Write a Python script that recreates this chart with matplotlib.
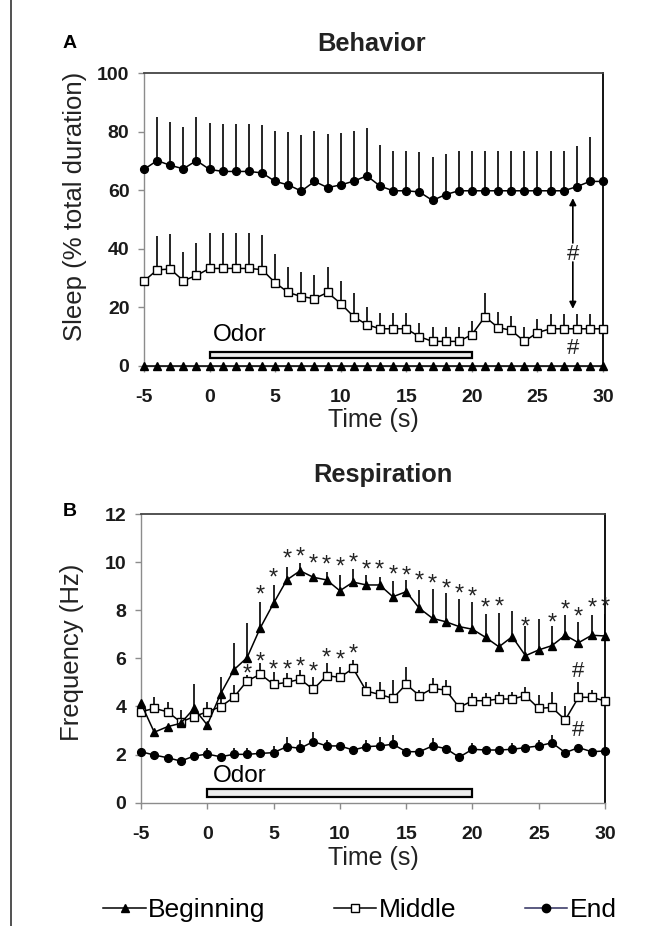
import numpy as np
import matplotlib
matplotlib.use("Agg")
import matplotlib.pyplot as plt
from matplotlib.lines import Line2D
from matplotlib.patches import Rectangle

plt.rcParams['font.family'] = ['Liberation Sans', 'DejaVu Sans']
plt.rcParams['axes.unicode_minus'] = False

# --- data ---
time_s = np.arange(-5, 31)

# A: behaviour (sleep %)
beh_begin = [0, 0, 0, 0, 0, 0, 0, 0, 0, 0, 0, 0, 0, 0, 0, 0, 0, 0,
             0, 0, 0, 0, 0, 0, 0, 0, 0, 0, 0, 0, 0, 0, 0, 0, 0, 0]
beh_mid = [29.0, 32.8, 33.1, 29.1, 30.9, 33.3, 33.3, 33.3, 33.3, 32.9, 28.4, 25.1,
           23.7, 23.0, 25.1, 21.3, 16.8, 14.1, 12.7, 12.7, 12.7, 10.0, 8.4, 8.4,
           8.4, 10.7, 16.8, 13.1, 12.2, 8.4, 11.4, 12.7, 12.7, 12.7, 12.7, 12.7]
beh_mid_err = [11.7, 11.6, 12.1, 9.9, 11.1, 12.1, 12.1, 12.1, 12.1, 11.8, 9.8, 8.8,
               8.5, 8.0, 8.8, 7.7, 8.0, 5.9, 5.3, 5.3, 5.3, 4.8, 4.9, 4.9,
               4.9, 4.5, 8.0, 5.4, 4.9, 4.9, 4.7, 5.1, 5.1, 5.1, 5.1, 0]
beh_end = [67.1, 70.1, 68.5, 67.3, 70.1, 67.1, 66.4, 66.4, 66.4, 65.9, 63.0, 61.8,
           59.7, 63.0, 60.9, 61.8, 63.1, 64.9, 61.4, 59.8, 59.8, 59.4, 56.5, 58.5,
           59.8, 59.8, 59.8, 59.8, 59.8, 59.8, 59.8, 59.8, 59.8, 61.2, 63.0, 63.0]
beh_end_err = [15.6, 14.8, 14.7, 14.4, 14.8, 15.9, 16.1, 16.1, 16.1, 16.2, 17.2, 18.1,
               19.1, 17.2, 18.2, 17.7, 17.1, 16.4, 13.9, 13.6, 13.6, 13.6, 14.7, 13.7,
               13.6, 13.6, 13.6, 13.6, 13.6, 13.6, 13.6, 13.6, 13.6, 14.0, 15.0, 0]

# B: respiration (Hz)
resp_begin = [4.13, 2.93, 3.16, 3.30, 3.92, 3.23, 4.52, 5.52, 6.03, 7.27, 8.29, 9.26,
              9.64, 9.37, 9.26, 8.81, 9.17, 9.05, 9.05, 8.56, 8.77, 8.08, 7.66, 7.52,
              7.32, 7.21, 6.87, 6.48, 6.90, 6.11, 6.35, 6.53, 6.96, 6.65, 6.96, 6.93]
resp_begin_err = [0.60, 0, 0, 0, 1.00, 0, 0.70, 1.13, 1.45, 1.08, 0.76, 0.55,
                  0.34, 0, 0.34, 0.65, 0.53, 0.40, 0.35, 0.67, 0.49, 0.76, 1.21, 1.18,
                  1.13, 1.14, 0.97, 1.39, 1.08, 1.23, 1.30, 0.81, 0.83, 0.87, 0.83, 0.90]
resp_mid = [3.78, 3.92, 3.78, 3.35, 3.58, 3.78, 3.99, 4.38, 5.06, 5.34, 4.92, 5.00,
            5.13, 4.71, 5.28, 5.21, 5.58, 4.64, 4.50, 4.34, 4.92, 4.45, 4.75, 4.68,
            3.96, 4.24, 4.24, 4.31, 4.31, 4.45, 3.92, 3.96, 3.44, 4.38, 4.38, 4.23]
resp_mid_err = [0.42, 0.46, 0.42, 0.50, 0, 0.42, 0.42, 0.51, 0.25, 0.45, 0.53, 0.38,
                0.39, 0.53, 0.54, 0.44, 0.35, 0.36, 0.50, 0.76, 0.73, 0.23, 0.42, 0.42,
                0, 0.31, 0.31, 0.30, 0.30, 0.37, 0.56, 0.65, 0.58, 0.62, 0.30, 0]
resp_end = [2.12, 1.98, 1.87, 1.73, 1.94, 2.02, 1.91, 2.01, 2.01, 2.05, 2.08, 2.33,
            2.26, 2.54, 2.36, 2.36, 2.19, 2.33, 2.36, 2.43, 2.12, 2.12, 2.36, 2.25,
            1.89, 2.22, 2.19, 2.19, 2.22, 2.29, 2.36, 2.49, 2.08, 2.29, 2.12, 2.15]
resp_end_err = [0.35, 0, 0, 0, 0, 0.24, 0, 0.25, 0.25, 0.20, 0.28, 0.41,
                0.35, 0.41, 0.25, 0, 0, 0.28, 0.36, 0.38, 0, 0, 0.32, 0,
                0, 0.25, 0, 0, 0.25, 0, 0.25, 0.32, 0, 0, 0, 0]

# significance marks
star_begin_x = [4, 5, 6, 7, 8, 9, 10, 11, 12, 13, 14, 15, 16, 17, 18, 19, 20, 21, 22,
                24, 26, 27, 28, 29, 30]
star_begin_y = [8.95, 9.64, 10.41, 10.5, 10.2, 10.18, 10.09, 10.28, 9.98, 9.95, 9.78,
                9.70, 9.53, 9.37, 9.19, 8.98, 8.84, 8.38, 8.42, 7.59, 7.76, 8.31,
                8.01, 8.40, 8.45]
star_mid_x = [3, 4, 5, 6, 7, 8, 9, 10, 11]
star_mid_y = [5.65, 6.14, 5.83, 5.83, 5.93, 5.72, 6.32, 6.21, 6.46]
hash_resp_x = [28, 28]
hash_resp_y = [5.54, 3.09]
hash_beh_x = [27.7, 27.7]
hash_beh_y = [39.0, 6.6]

odor_start, odor_end = 0, 20

W, H = 655, 926
fig = plt.figure(figsize=(W / 100, H / 100), dpi=100)
fig.add_artist(Line2D([11 / W, 11 / W], [0, 1], transform=fig.transFigure,
                      color='#333333', lw=1.2))


def style_axes(ax):
    for side in ['left', 'bottom']:
        ax.spines[side].set_color('#8c8c8c')
        ax.spines[side].set_linewidth(1.0)
    ax.spines['top'].set_color('#444444')
    ax.spines['top'].set_linewidth(1.3)
    ax.spines['right'].set_color('#000000')
    ax.spines['right'].set_linewidth(1.3)
    ax.tick_params(direction='out', length=4.5, width=1.0, color='#8c8c8c',
                   labelsize=14, pad=6)
    ax.tick_params(axis='x', pad=12)
    for lab in ax.get_xticklabels() + ax.get_yticklabels():
        lab.set_fontweight('bold')
        lab.set_color('#1a1a1a')


def draw_series(ax, y, err, marker, face, ms):
    ax.vlines(time_s, y, np.array(y) + np.array(err), color='black', lw=1.2, zorder=2)
    ax.plot(time_s, y, color='black', lw=1.1, marker=marker, mfc=face, mec='black',
            ms=ms, mew=1.0, zorder=3, clip_on=False)


def mark(ax, x, y, s, fs, frac):
    for xi, yi in zip(x, y):
        ax.annotate(s, (xi, yi), xytext=(0, -frac * fs), textcoords='offset points',
                    ha='center', va='baseline', fontsize=fs, color='#222222')


# ---------- A ----------
axA = fig.add_axes([144 / W, 1 - 366 / H, 459 / W, 293 / H])
axA.set_xlim(-5, 30)
axA.set_ylim(0, 100)
axA.set_xticks(range(-5, 31, 5))
axA.set_yticks(range(0, 101, 20))
draw_series(axA, beh_end, beh_end_err, 'o', 'black', 5.6)
draw_series(axA, beh_mid, beh_mid_err, 's', 'white', 5.8)
draw_series(axA, beh_begin, np.zeros(36), '^', 'black', 6)
axA.add_patch(Rectangle((odor_start, 2.6), odor_end - odor_start, 2.3, fc='#ececec',
                        ec='black', lw=1.6, zorder=2))
axA.text(0.25, 8.6, 'Odor', fontsize=17.5, ha='left', va='baseline')
axA.annotate('', xy=(27.7, 57.3), xytext=(27.7, 42.0),
             arrowprops=dict(arrowstyle='-|>', color='black', lw=1.2,
                             mutation_scale=10, shrinkA=0, shrinkB=0))
axA.annotate('', xy=(27.7, 19.5), xytext=(27.7, 35.5),
             arrowprops=dict(arrowstyle='-|>', color='black', lw=1.2,
                             mutation_scale=10, shrinkA=0, shrinkB=0))
mark(axA, hash_beh_x, hash_beh_y, '#', 16, 0.35)
style_axes(axA)

# ---------- B ----------
axB = fig.add_axes([141 / W, 1 - 802.7 / H, 464 / W, 288.7 / H])
axB.set_xlim(-5, 30)
axB.set_ylim(0, 12)
axB.set_xticks(range(-5, 31, 5))
axB.set_yticks(range(0, 13, 2))
draw_series(axB, resp_end, resp_end_err, 'o', 'black', 5.6)
draw_series(axB, resp_mid, resp_mid_err, 's', 'white', 5.8)
draw_series(axB, resp_begin, resp_begin_err, '^', 'black', 6)
axB.add_patch(Rectangle((odor_start, 0.25), odor_end - odor_start, 0.31, fc='#ececec',
                        ec='black', lw=1.6, zorder=2))
axB.text(0.4, 0.87, 'Odor', fontsize=17.5, ha='left', va='baseline')
mark(axB, star_begin_x, star_begin_y, '*', 17, 0.58)
mark(axB, star_mid_x, star_mid_y, '*', 17, 0.58)
mark(axB, hash_resp_x, hash_resp_y, '#', 16, 0.35)
style_axes(axB)

# ---------- texts ----------
fig.text(70 / W, 1 - 44 / H, 'A', fontsize=14, fontweight='bold', ha='center', va='center')
fig.text(372 / W, 1 - 44 / H, 'Behavior', fontsize=18.3, fontweight='bold', ha='center',
         va='center', color='#222222')
fig.text(75 / W, 1 - 206 / H, 'Sleep (% total duration)', fontsize=18.5, rotation=90,
         ha='center', va='center', color='#222222')
fig.text(373 / W, 1 - 420 / H, 'Time (s)', fontsize=18, ha='center', va='center',
         color='#222222')

fig.text(70 / W, 1 - 511 / H, 'B', fontsize=14, fontweight='bold', ha='center', va='center')
fig.text(383 / W, 1 - 475 / H, 'Respiration', fontsize=18.3, fontweight='bold', ha='center',
         va='center', color='#222222')
fig.text(72 / W, 1 - 652 / H, 'Frequency (Hz)', fontsize=18.5, rotation=90,
         ha='center', va='center', color='#222222')
fig.text(373 / W, 1 - 858 / H, 'Time (s)', fontsize=18, ha='center', va='center',
         color='#222222')

handles = [
    Line2D([], [], color='black', lw=1.1, marker='^', mfc='black', mec='black', ms=6),
    Line2D([], [], color='black', lw=1.1, marker='s', mfc='white', mec='black', ms=6),
    Line2D([], [], color='#2e2e5e', lw=1.1, marker='o', mfc='black', mec='black', ms=6),
]
fig.legend(handles, ['Beginning', 'Middle', 'End'], loc='center',
           bbox_to_anchor=(0.55, 1 - 910 / H), ncol=3, frameon=False, fontsize=19,
           handlelength=1.6, handletextpad=0.1, columnspacing=2.6)

fig.savefig('out.png', dpi=100)
